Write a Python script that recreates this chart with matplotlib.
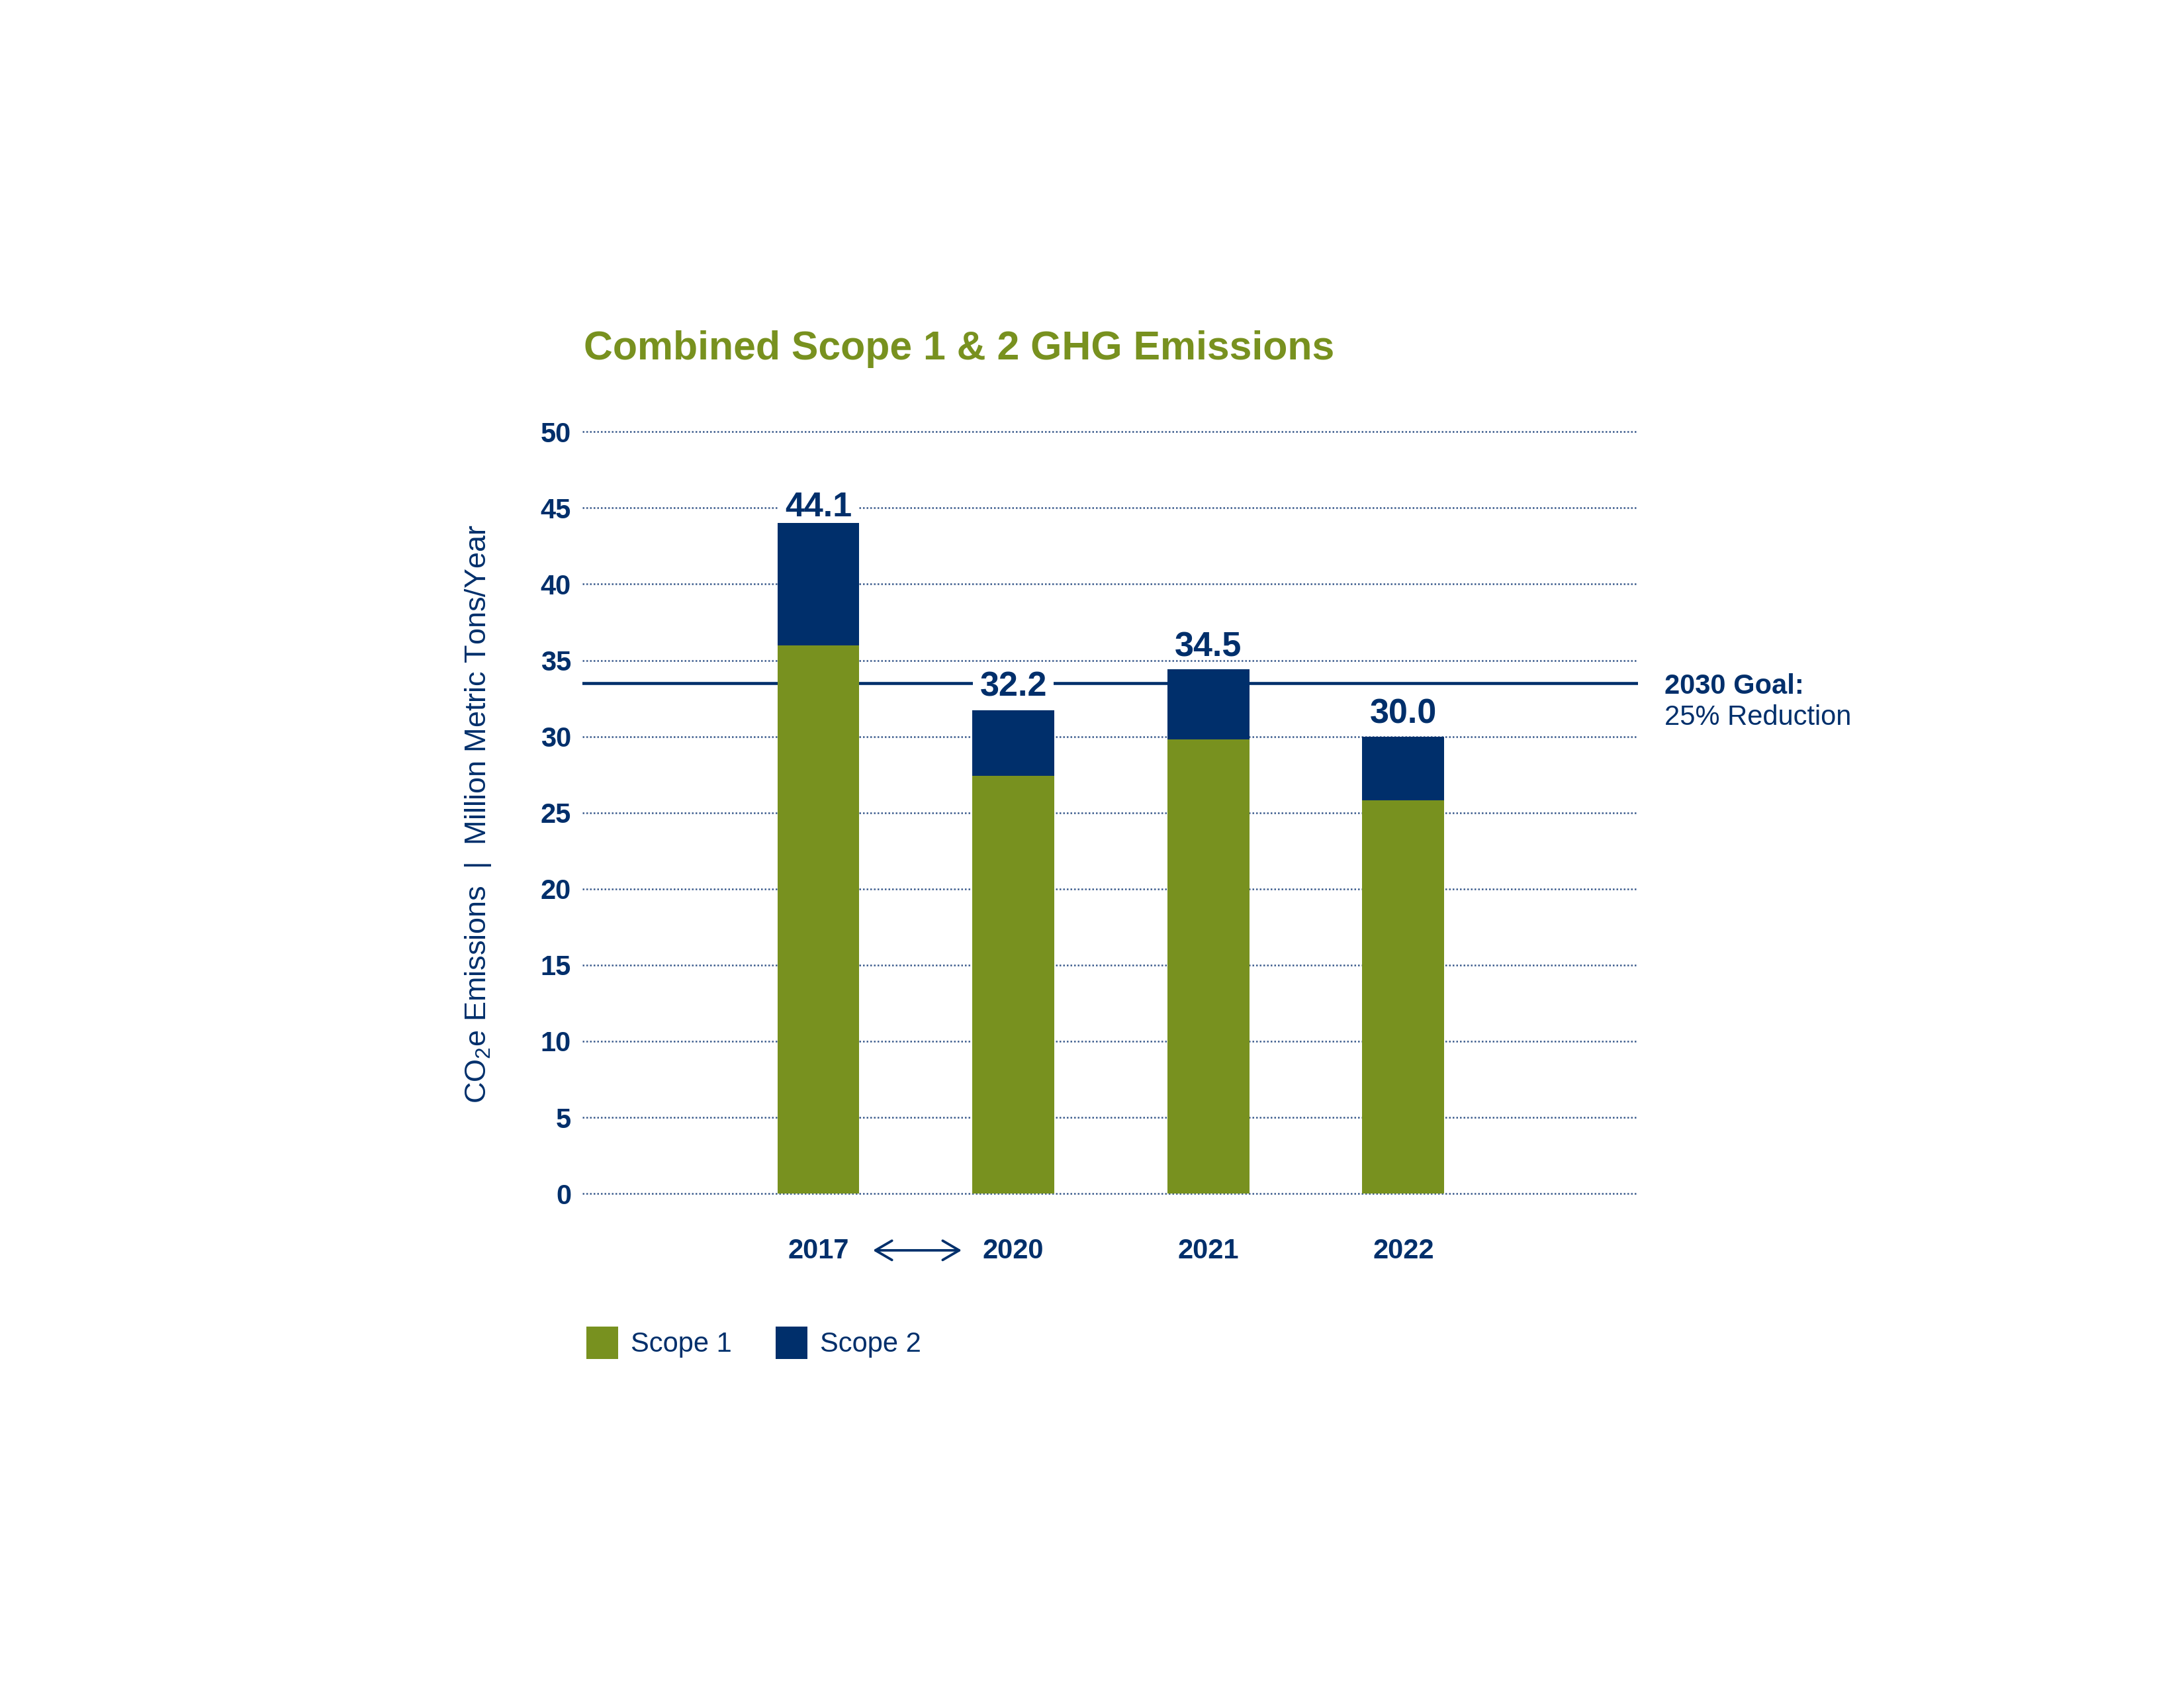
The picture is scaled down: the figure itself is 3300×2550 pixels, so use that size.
import matplotlib
matplotlib.use("Agg")
import matplotlib.pyplot as plt
import matplotlib.transforms as mtransforms
from matplotlib.patches import Patch
import numpy as np

# Values (million metric tons CO2e / year)
years = ["2017", "2020", "2021", "2022"]
scope1 = [36.0, 27.4, 29.8, 25.8]
scope2 = [8.0, 4.3, 4.6, 4.2]
total_labels = ["44.1", "32.2", "34.5", "30.0"]
goal_2030 = 33.5
y_ticks = [0, 5, 10, 15, 20, 25, 30, 35, 40, 45, 50]

GREEN = "#78911f"
NAVY = "#002f6b"

plt.rcParams["font.family"] = ["Liberation Sans", "DejaVu Sans"]
plt.rcParams["mathtext.default"] = "regular"

fig = plt.figure(figsize=(11, 8.5), dpi=300, facecolor="white")
ax = fig.add_axes([0.2666, 0.2929, 0.4834, 0.4513])

x = np.arange(len(years))
bar_width = 0.42
ax.bar(x, scope1, bar_width, color=GREEN, zorder=3, label="Scope 1")
ax.bar(x, scope2, bar_width, bottom=scope1, color=NAVY, zorder=3, label="Scope 2")

# 2030 goal line
ax.axhline(goal_2030, color=NAVY, lw=1.1, zorder=2)

# total labels; a label that lands near a line is centred on it and knocks it out
# (drawn under the bars so the white box never clips a bar top)
totals = np.add(scope1, scope2)
h_lines = y_ticks + [goal_2030]
for xi, tot, lab in zip(x, totals, total_labels):
    ly = tot + 1.45
    box = None
    near = [h for h in h_lines if abs(ly - h) < 0.6]
    if near:
        ly = max(near[0] - 0.25, tot + 1.05)
        box = dict(boxstyle="square,pad=0.2", fc="white", ec="none")
    ax.text(xi, ly, lab, ha="center", va="center", fontsize=12.5,
            fontweight="bold", color=NAVY, zorder=2.5, bbox=box)

# goal annotation to the right of the plot
trans_goal = mtransforms.blended_transform_factory(ax.transAxes, ax.transData)
ax.text(1.025, goal_2030 - 0.2, "2030 Goal:", transform=trans_goal, ha="left", va="center",
        fontsize=10, fontweight="bold", color=NAVY)
ax.text(1.025, goal_2030 - 2.25, "25% Reduction", transform=trans_goal, ha="left",
        va="center", fontsize=10, color=NAVY)

# axes styling
ax.set_xlim(-1.211, 4.204)
ax.set_ylim(0, 50)
ax.set_yticks(y_ticks)
ax.set_yticklabels([str(t) for t in y_ticks], fontsize=10, fontweight="bold", color=NAVY)
ax.set_xticks(x)
ax.set_xticklabels(years, fontsize=10, fontweight="bold", color=NAVY)
ax.tick_params(axis="y", length=0, pad=4)
ax.tick_params(axis="x", length=0, pad=16)
for side in ax.spines.values():
    side.set_visible(False)
ax.yaxis.grid(True, linestyle=(0, (1, 1.2)), lw=0.6, color="#3a5a8c", zorder=1)
ax.set_axisbelow(True)
for gl in ax.get_ygridlines():
    gl.set_clip_on(False)

# arrow between 2017 and 2020
trans_arrow = mtransforms.blended_transform_factory(ax.transData, ax.transAxes)
ax.annotate("", xy=(0.735, -0.0745), xytext=(0.28, -0.0745), xycoords=trans_arrow,
            textcoords=trans_arrow, annotation_clip=False,
            arrowprops=dict(arrowstyle="<->,head_length=0.6,head_width=0.35",
                            color=NAVY, lw=0.9, shrinkA=0, shrinkB=0))

# title and y label
fig.text(0.2672, 0.7871, "Combined Scope 1 & 2 GHG Emissions", ha="left", va="baseline",
         fontsize=14.6, fontweight="bold", color=GREEN)
fig.text(0.2188, 0.5177, "CO$_2$e Emissions  |  Million Metric Tons/Year", rotation=90,
         ha="center", va="center", fontsize=10.8, color=NAVY)

handles = [Patch(facecolor=GREEN, edgecolor="none"), Patch(facecolor=NAVY, edgecolor="none")]
leg = fig.legend(handles, ["Scope 1", "Scope 2"], loc="center left",
                 bbox_to_anchor=(0.2685, 0.2045), ncol=2, frameon=False, fontsize=10,
                 handlelength=1.15, handleheight=1.45, handletextpad=0.45,
                 columnspacing=1.6, borderpad=0, borderaxespad=0)
for t in leg.get_texts():
    t.set_color(NAVY)

fig.savefig("out.png", dpi=300, facecolor="white")
